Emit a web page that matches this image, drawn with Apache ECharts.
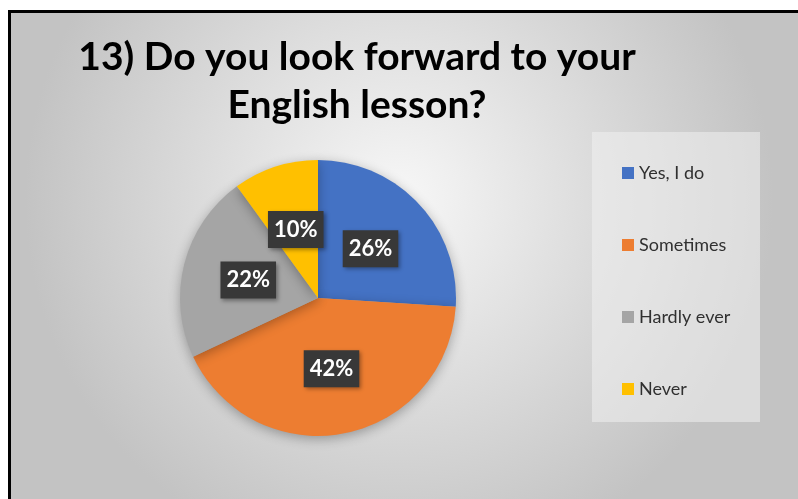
<!DOCTYPE html>
<html>
<head>
<meta charset="utf-8">
<script src="https://cdn.jsdelivr.net/npm/echarts@6/dist/echarts.min.js"></script>
<style>
  html, body { margin: 0; padding: 0; background: #fff; }
  #main { width: 798px; height: 499px; }
</style>
</head>
<body>
<div id="main"></div>
<script>
var categories = ['Yes, I do', 'Sometimes', 'Hardly ever', 'Never']
var percents = [26, 42, 22, 10]
var colors = ['#4472c4', '#ed7d31', '#a5a5a5', '#ffc000']

var chart = echarts.init(document.getElementById('main'))

var option = {
  backgroundColor: {
    type: 'radial', x: 0.5, y: 0.4, r: 0.75,
    colorStops: [
      { offset: 0, color: '#f7f7f7' },
      { offset: 1, color: '#c3c3c3' }
    ]
  },
  color: colors,
  animation: false,
  title: {
    text: '13) Do you look forward to your\nEnglish lesson?',
    left: 352,
    top: 28,
    textAlign: 'center',
    textStyle: {
      fontFamily: 'Lato',
      fontWeight: 'bold',
      fontSize: 39,
      lineHeight: 48,
      color: '#000',
      align: 'center'
    }
  },
  graphic: [
    // legend box
    { type: 'rect', shape: { x: 592, y: 132, width: 168, height: 290 }, style: { fill: 'rgba(240,240,240,0.55)' }, z: 0 },
    // frame
    { type: 'rect', shape: { x: 0, y: 0, width: 798, height: 10 }, style: { fill: '#fff' }, z: 10 },
    { type: 'rect', shape: { x: 0, y: 0, width: 8, height: 499 }, style: { fill: '#fff' }, z: 10 },
    { type: 'rect', shape: { x: 8, y: 10, width: 790, height: 3 }, style: { fill: '#000' }, z: 11 },
    { type: 'rect', shape: { x: 8, y: 10, width: 3, height: 489 }, style: { fill: '#000' }, z: 11 }
  ],
  legend: {
    orient: 'vertical',
    left: 617,
    top: 158,
    icon: 'rect',
    itemWidth: 12,
    itemHeight: 12,
    itemGap: 52,
    data: categories,
    textStyle: {
      fontFamily: 'Lato',
      fontSize: 18,
      lineHeight: 20,
      color: '#303030'
    }
  },
  series: [
    {
      type: 'pie',
      center: [318, 298],
      radius: [0, 138],
      startAngle: 90,
      clockwise: true,
      itemStyle: {
        shadowBlur: 12,
        shadowColor: 'rgba(0,0,0,0.3)',
        shadowOffsetY: 3
      },
      label: {
        show: true,
        position: 'inside',
        formatter: '{c}%',
        color: '#fff',
        fontFamily: 'Lato',
        fontWeight: 'bold',
        fontSize: 22,
        backgroundColor: '#383838',
        padding: [8, 6, 7, 6],
        shadowBlur: 4,
        shadowColor: 'rgba(0,0,0,0.35)',
        shadowOffsetX: 2,
        shadowOffsetY: 2
      },
      labelLine: { show: false },
      emphasis: { disabled: true },
      data: categories.map(function (name, i) {
        return { name: name, value: percents[i] }
      })
    }
  ]
}

chart.setOption(option)
</script>
</body>
</html>
